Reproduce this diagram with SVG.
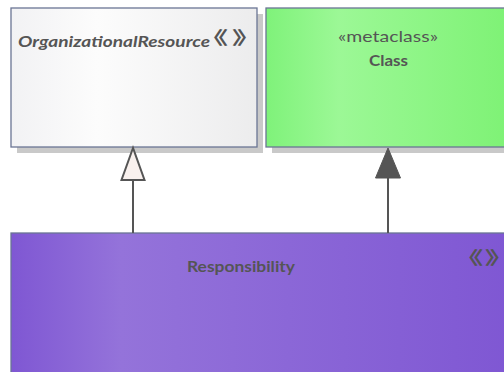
<svg xmlns="http://www.w3.org/2000/svg" width="504" height="372" viewBox="0 0 504 372">
<defs>
<linearGradient id="gGray" x1="0" y1="0" x2="1" y2="0">
<stop offset="0" stop-color="#f2f2f4"/><stop offset="0.35" stop-color="#fcfcfc"/><stop offset="1" stop-color="#ececed"/>
</linearGradient>
<linearGradient id="gGreen" x1="0" y1="0" x2="1" y2="0">
<stop offset="0" stop-color="#7ff27a"/><stop offset="0.3" stop-color="#9cf896"/><stop offset="1" stop-color="#7ef275"/>
</linearGradient>
<linearGradient id="gPurple" x1="0" y1="0" x2="1" y2="0">
<stop offset="0" stop-color="#7f57d3"/><stop offset="0.22" stop-color="#9473da"/><stop offset="1" stop-color="#7f57d3"/>
</linearGradient>
<style>
.shadow{fill:#c9c9c9}
.box{stroke:#6a7594;stroke-width:1.3}
.t{font-family:Lato,"Liberation Sans",sans-serif;fill:#555555}
.b{font-weight:bold}
.g{font-family:"Noto Sans CJK JP",sans-serif;fill:#555555;font-size:18px;font-weight:bold}
.edge{stroke:#555555;stroke-width:2;fill:none}
</style>
</defs>
<g id="OrganizationalResource">
<rect class="shadow" x="17" y="14" width="246" height="139"/>
<rect class="box" x="11" y="8" width="246" height="139" fill="url(#gGray)"/>
<text class="t b" x="18" y="47" font-size="16" font-style="italic" textLength="192" lengthAdjust="spacingAndGlyphs">OrganizationalResource</text>
<text class="g" transform="scale(1.6 1)" x="124.5 145" y="44.5">《》</text>
</g>
<g id="Class">
<rect class="shadow" x="272" y="14" width="240" height="139"/>
<rect class="box" x="266" y="8" width="244" height="139" fill="url(#gGreen)"/>
<text class="t" x="338" y="42" font-size="16" textLength="100" lengthAdjust="spacingAndGlyphs">«metaclass»</text>
<text class="t b" x="369" y="66" font-size="16" textLength="39" lengthAdjust="spacingAndGlyphs">Class</text>
</g>
<g id="Responsibility">
<rect class="box" x="11" y="233" width="500" height="145" fill="url(#gPurple)" stroke="#666"/>
<text class="t b" x="187" y="272" font-size="16" textLength="108" lengthAdjust="spacingAndGlyphs">Responsibility</text>
<text class="g" transform="scale(1.6 1)" x="284 303" y="264.5">《》</text>
</g>
<g id="connectors">
<line class="edge" x1="133" y1="233" x2="133" y2="180"/>
<polygon points="133,148 121.5,180 144.5,180" fill="#f9f1ee" stroke="#555555" stroke-width="2" stroke-linejoin="miter"/>
<line class="edge" x1="388" y1="233" x2="388" y2="178"/>
<polygon points="388,148 375.5,178 400.5,178" fill="#555555" stroke="#555555" stroke-width="1"/>
</g>
</svg>
